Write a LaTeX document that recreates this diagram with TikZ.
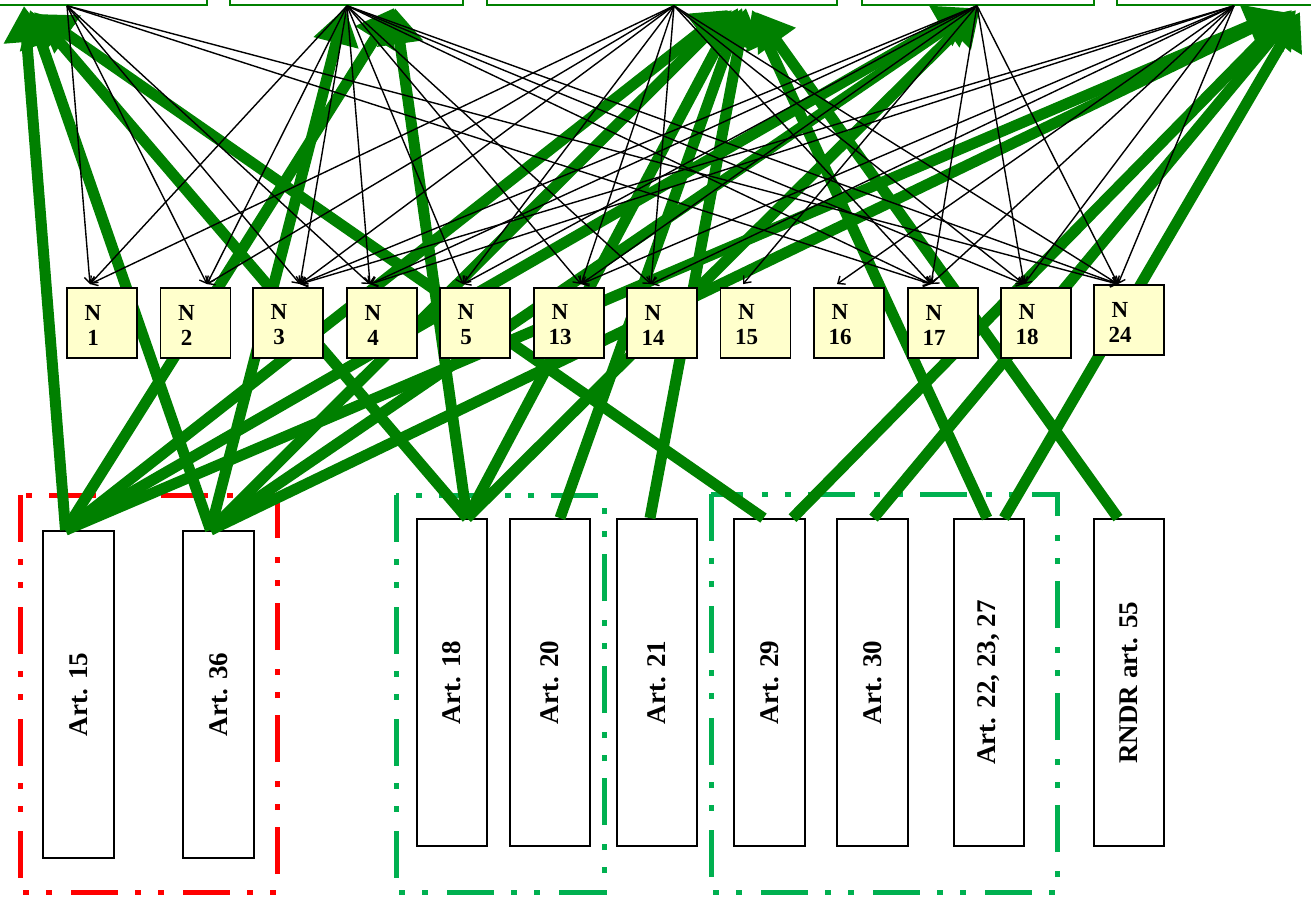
\documentclass[tikz,border=0pt]{standalone}
\usepackage{fontspec}
\setmainfont{Liberation Serif}
\usetikzlibrary{arrows.meta}
\definecolor{gline}{RGB}{0,128,0}
\definecolor{oframe}{RGB}{0,176,80}
\definecolor{rframe}{RGB}{255,0,0}
\definecolor{nfill}{RGB}{255,255,204}
\begin{document}
\begin{tikzpicture}[x=1pt,y=-1pt,
  topbox/.style={draw=gline, line width=1.5pt, fill=white, minimum height=70pt, inner sep=0pt},
  nbox/.style={draw=black, line width=1.8pt, fill=nfill, minimum width=70pt, minimum height=70pt, inner sep=0pt},
  ntext/.style={font=\bfseries\fontsize{23}{25}\selectfont, align=center, inner sep=0pt},
  artbox/.style={draw=black, line width=1.8pt, fill=white, minimum height=327pt, inner sep=0pt, font=\bfseries\fontsize{27}{30}\selectfont},
  frameline/.style={line width=5pt, dash pattern=on 47pt off 17pt on 6pt off 17pt on 6pt off 19pt},
  garrow/.style={draw=gline, line width=11pt, -{Triangle[length=36pt,width=44pt]}},
  barrow/.style={draw=black, line width=1.4pt, -{Straight Barb[length=6pt,width=10pt]}}
]
\useasboundingbox (0,0) rectangle (1311,898);
\clip (0,0) rectangle (1311,898);
\fill[white] (0,0) rectangle (1311,898);

% top boxes (cut off by the page)
\node[topbox, minimum width=247pt] (TA) at (83.5,-30) {};
\node[topbox, minimum width=233pt] (TB) at (346.5,-30) {};
\node[topbox, minimum width=350pt] (TC) at (662,-30) {};
\node[topbox, minimum width=232pt] (TD) at (978,-30) {};
\node[topbox, minimum width=243pt] (TE) at (1238.5,-30) {};

% frames
\draw[frameline, draw=rframe] (20,495) rectangle (277,892);
\draw[frameline, draw=oframe] (396,495) rectangle (604,892);
\draw[frameline, draw=oframe] (711,494) rectangle (1057,892);

% article boxes
\node[artbox, minimum width=71pt] (A15) at (78.5,694.5) {\rotatebox{90}{Art. 15}};
\node[artbox, minimum width=71pt] (A36) at (218.5,694.5) {\rotatebox{90}{Art. 36}};
\node[artbox, minimum width=70pt] (A18) at (452,682.5) {\rotatebox{90}{Art. 18}};
\node[artbox, minimum width=80pt] (A20) at (550,682.5) {\rotatebox{90}{Art. 20}};
\node[artbox, minimum width=80pt] (A21) at (657,682.5) {\rotatebox{90}{Art. 21}};
\node[artbox, minimum width=71pt] (A29) at (769.5,682.5) {\rotatebox{90}{Art. 29}};
\node[artbox, minimum width=71pt] (A30) at (872.5,682.5) {\rotatebox{90}{Art. 30}};
\node[artbox, minimum width=70pt] (A22) at (989,682.5) {\rotatebox{90}{Art. 22, 23, 27}};
\node[artbox, minimum width=70pt] (A55) at (1129,682.5) {\rotatebox{90}{RNDR art. 55}};

% start points of green connectors
\coordinate (s15) at ([xshift=-13pt]A15.north);
\coordinate (s36) at ([xshift=-8pt]A36.north);
\coordinate (s18) at ([xshift=15pt]A18.north);
\coordinate (s20) at ([xshift=10pt]A20.north);
\coordinate (s21) at ([xshift=-7pt]A21.north);
\coordinate (s29a) at ([xshift=-6pt]A29.north);
\coordinate (s29b) at ([xshift=23pt]A29.north);
\coordinate (s30) at ([xshift=1pt]A30.north);
\coordinate (s22a) at ([xshift=-2pt]A22.north);
\coordinate (s22b) at ([xshift=15pt]A22.north);
\coordinate (s55) at ([xshift=-11pt]A55.north);

% tips of green connectors on the top boxes
\coordinate (tA1) at (24,6);  \coordinate (tA2) at (30,10); \coordinate (tA3) at (34,12); \coordinate (tA4) at (38,14);
\coordinate (tB1) at (345,8); \coordinate (tB2) at (394,8); \coordinate (tB3) at (395,8);
\coordinate (tC1) at (728,10); \coordinate (tC2) at (732,10); \coordinate (tC3) at (738,8); \coordinate (tC4) at (742,8);
\coordinate (tC5) at (746,8); \coordinate (tC6) at (752,10); \coordinate (tC7) at (756,12);
\coordinate (tD1) at (972,8); \coordinate (tD2) at (976,8); \coordinate (tD3) at (980,8);
\coordinate (tE1) at (1282,12); \coordinate (tE2) at (1285,12); \coordinate (tE3) at (1292,10); \coordinate (tE4) at (1296,10); \coordinate (tE5) at (1300,12);

\foreach \s/\t in {s15/tA1, s36/tA2, s18/tA3, s29a/tA4,
  s36/tB1, s15/tB2, s18/tB3,
  s15/tC1, s36/tC2, s18/tC3, s20/tC4, s21/tC5, s22a/tC6, s55/tC7,
  s15/tD1, s36/tD2, s18/tD3,
  s15/tE1, s36/tE2, s29b/tE3, s30/tE4, s22b/tE5}
  \draw[garrow] (\s) -- (\t);

% N boxes
\node[nbox] (N1) at (102,323) {};
\node[nbox] (N2) at (195.5,323) {};
\node[nbox] (N3) at (288,323) {};
\node[nbox] (N4) at (382,323) {};
\node[nbox] (N5) at (475,323) {};
\node[nbox] (N13) at (569,323) {};
\node[nbox] (N14) at (662,323) {};
\node[nbox] (N15) at (755.5,323) {};
\node[nbox] (N16) at (849,323) {};
\node[nbox] (N17) at (943,323) {};
\node[nbox] (N18) at (1036,323) {};
\node[nbox] (N24) at (1129,320) {};
\foreach \n in {1,2,3,4,5,13,14,15,16,17,18,24}
  \node[ntext] at ([xshift=-9pt,yshift=-2pt]N\n.center) {N\\\n};

% black connector end points
\coordinate (pA) at ([xshift=-16.5pt]TA.south);
\coordinate (pB) at ([xshift=0.5pt]TB.south);
\coordinate (pC) at ([xshift=12pt]TC.south);
\coordinate (pD) at ([xshift=-1pt]TD.south);
\coordinate (pE) at ([xshift=-4.5pt]TE.south);
\coordinate (n1) at ([xshift=-12pt,yshift=3pt]N1.north);
\coordinate (n2) at ([xshift=11.5pt,yshift=3pt]N2.north);
\coordinate (n3) at ([xshift=12pt,yshift=3pt]N3.north);
\coordinate (n4) at ([xshift=-12pt,yshift=3pt]N4.north);
\coordinate (n5) at ([xshift=-12pt,yshift=3pt]N5.north);
\coordinate (n13) at ([xshift=12pt,yshift=3pt]N13.north);
\coordinate (n14) at ([xshift=-11pt,yshift=3pt]N14.north);
\coordinate (n15) at ([xshift=-12.5pt,yshift=3pt]N15.north);
\coordinate (n16) at ([xshift=-12pt,yshift=3pt]N16.north);
\coordinate (n17) at ([xshift=-12pt,yshift=3pt]N17.north);
\coordinate (n18) at ([xshift=-12pt,yshift=3pt]N18.north);
\coordinate (n24) at ([xshift=-11pt]N24.north);

\foreach \t in {n1,n2,n3,n4,n17,n24} \draw[barrow] (pA) -- (\t);
\foreach \t in {n1,n2,n3,n4,n5,n13,n14,n17,n18,n24} \draw[barrow] (pB) -- (\t);
\foreach \t in {n1,n2,n3,n5,n13,n14,n17,n18,n24} \draw[barrow] (pC) -- (\t);
\foreach \t in {n3,n4,n5,n13,n15,n17,n18,n24} \draw[barrow] (pD) -- (\t);
\foreach \t in {n3,n4,n13,n14,n16,n17,n18,n24} \draw[barrow] (pE) -- (\t);
\end{tikzpicture}
\end{document}
